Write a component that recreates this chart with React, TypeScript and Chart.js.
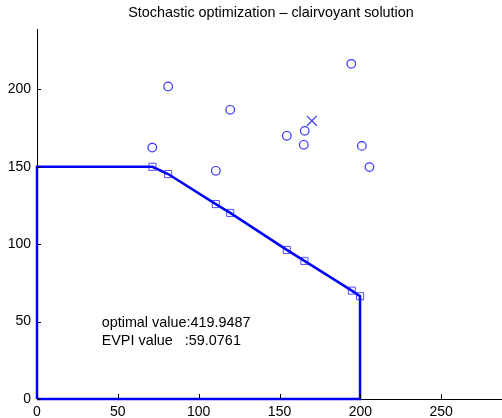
import React, { useEffect, useRef } from 'react';
import { Chart, registerables } from 'chart.js';

Chart.register(...registerables);

// Feasible-region boundary (closed polygon)
const boundaryX = [0, 0, 71.4, 81.1, 110.6, 119.5, 154.5, 165.4, 194.7, 199.8, 199.8, 0];
const boundaryY = [0, 150, 150, 145.3, 125.9, 120.2, 96.3, 89.2, 70.0, 66.4, 0, 0];
// Clairvoyant solutions (square markers)
const vertexX = [71.4, 81.1, 110.6, 119.5, 154.5, 165.4, 194.7, 199.8];
const vertexY = [150, 145.3, 125.9, 120.2, 96.3, 89.2, 70.0, 66.4];
// Scenario points (circles)
const scenarioX = [71.3, 81.1, 110.6, 119.5, 154.5, 165.6, 165.0, 194.4, 200.9, 205.6];
const scenarioY = [162.4, 201.9, 147.4, 186.8, 170.0, 173.2, 164.2, 216.5, 163.5, 149.8];
// Mean point (cross)
const meanX = [170.0];
const meanY = [179.7];

const xTicks = [0, 50, 100, 150, 200, 250];
const yTicks = [0, 50, 100, 150, 200];
const xRange = [0, 287.6];
const yRange = [0, 239];

const titleText = 'Stochastic optimization \u2013 clairvoyant solution';
const noteLines = ['optimal value:419.9487', 'EVPI value   :59.0761'];
const notePos = [40, 50];

const FONT = '"Liberation Sans", Arial, Helvetica, sans-serif';

const pts = (xs: number[], ys: number[]) => xs.map((x, i) => ({ x, y: ys[i] }));

const decorPlugin = {
  id: 'decor',
  afterDraw(chart: any) {
    const { ctx, chartArea: a, scales } = chart;
    const xs = scales.x;
    const ys = scales.y;
    ctx.save();
    // inward tick marks
    ctx.strokeStyle = '#000';
    ctx.lineWidth = 1;
    ctx.beginPath();
    xs.ticks.forEach((t: any) => {
      const px = Math.round(xs.getPixelForValue(t.value)) + 0.5;
      ctx.moveTo(px, a.bottom);
      ctx.lineTo(px, a.bottom - 5);
    });
    ys.ticks.forEach((t: any) => {
      const py = Math.round(ys.getPixelForValue(t.value)) + 0.5;
      ctx.moveTo(a.left, py);
      ctx.lineTo(a.left + 4, py);
    });
    ctx.stroke();
    // title
    ctx.fillStyle = '#000';
    ctx.font = `14.4px ${FONT}`;
    ctx.textAlign = 'center';
    ctx.textBaseline = 'alphabetic';
    ctx.fillText(titleText, (a.left + a.right) / 2 + 1.5, 17);
    // annotation
    ctx.textAlign = 'left';
    ctx.textBaseline = 'middle';
    const nx = xs.getPixelForValue(notePos[0]);
    const ny = ys.getPixelForValue(notePos[1]) + 1;
    noteLines.forEach((line, i) => {
      ctx.fillText(line, nx, ny + i * 18.7);
    });
    ctx.restore();
  },
};

export default function App() {
  const ref = useRef<HTMLCanvasElement>(null);
  useEffect(() => {
    document.body.style.margin = '0';
    const canvas = ref.current!;
    const chart = new Chart(canvas, {
      type: 'scatter',
      data: {
        datasets: [
          {
            data: pts(boundaryX, boundaryY),
            showLine: true,
            borderColor: '#0000ff',
            borderWidth: 2.5,
            pointRadius: 0,
            tension: 0,
            clip: false as any,
            order: 3,
          },
          {
            data: pts(vertexX, vertexY),
            pointStyle: 'rect',
            pointRadius: 5,
            borderColor: 'rgba(20,20,255,0.75)',
            backgroundColor: 'rgba(0,0,0,0)',
            borderWidth: 1,
            order: 2,
          },
          {
            data: pts(scenarioX, scenarioY),
            pointStyle: 'circle',
            pointRadius: 4.3,
            borderColor: 'rgba(20,20,255,0.85)',
            backgroundColor: 'rgba(0,0,0,0)',
            borderWidth: 1.2,
            order: 1,
          },
          {
            data: pts(meanX, meanY),
            pointStyle: 'crossRot',
            pointRadius: 7,
            borderColor: 'rgba(20,20,255,0.85)',
            borderWidth: 1.2,
            order: 0,
          },
        ],
      },
      options: {
        animation: false,
        responsive: false,
        devicePixelRatio: 1,
        events: [],
        layout: { autoPadding: false, padding: { top: 29, left: 0, right: 0, bottom: 0 } },
        plugins: {
          legend: { display: false },
          title: { display: false },
          tooltip: { enabled: false },
        },
        scales: {
          x: {
            type: 'linear',
            min: xRange[0],
            max: xRange[1],
            grid: { display: false, drawTicks: false },
            border: { display: true, color: '#000', width: 1 },
            ticks: {
              padding: 5,
              color: '#000',
              font: { family: FONT, size: 14 },
            },
            afterBuildTicks: (scale: any) => {
              scale.ticks = xTicks.map((v) => ({ value: v }));
            },
            afterFit: (scale: any) => {
              scale.height = 19;
              scale.paddingLeft = 0;
              scale.paddingRight = 0;
            },
          },
          y: {
            type: 'linear',
            min: yRange[0],
            max: yRange[1],
            grid: { display: false, drawTicks: false },
            border: { display: true, color: '#000', width: 1 },
            ticks: {
              padding: 6,
              color: '#000',
              font: { family: FONT, size: 14 },
            },
            afterBuildTicks: (scale: any) => {
              scale.ticks = yTicks.map((v) => ({ value: v }));
            },
            afterFit: (scale: any) => {
              scale.width = 37;
              scale.paddingTop = 0;
              scale.paddingBottom = 0;
            },
          },
        },
      },
      plugins: [decorPlugin],
    });
    return () => chart.destroy();
  }, []);
  return (
    <div style={{ position: 'absolute', left: 0, top: 0, width: 502, height: 418 }}>
      <canvas ref={ref} width={502} height={418} />
    </div>
  );
}
